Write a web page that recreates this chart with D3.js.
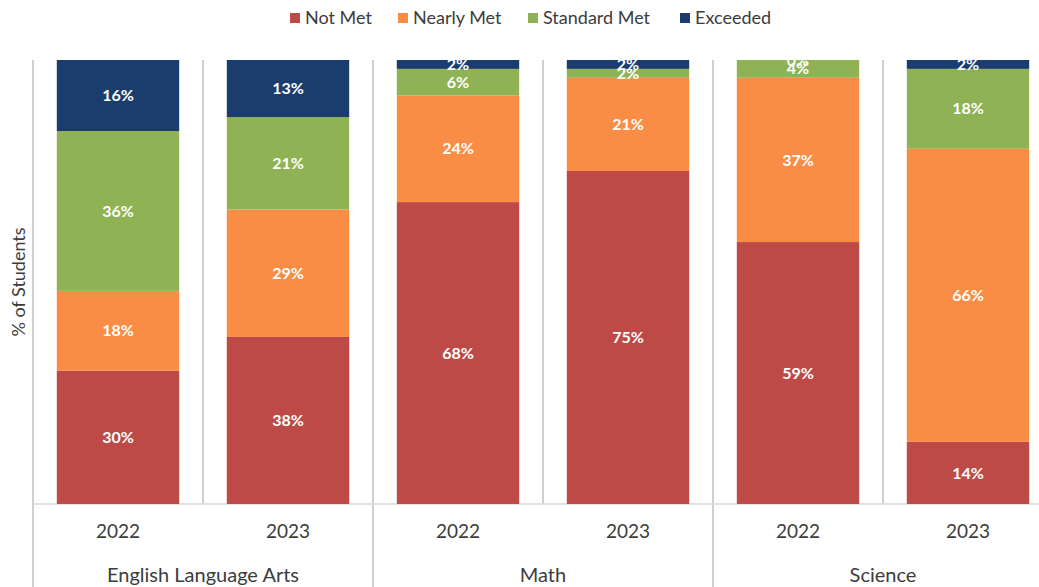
<!DOCTYPE html>
<html>
<head>
<meta charset="utf-8">
<script src="https://cdn.jsdelivr.net/npm/d3@7"></script>
<style>
  body { margin: 0; background: #fff; }
  text { font-family: Lato, "Open Sans", sans-serif; }
</style>
</head>
<body>
<div id="chart"></div>
<script>
// data
var subjects = ["English Language Arts", "Math", "Science"];
var years = ["2022", "2023"];
var levels = ["Not Met", "Nearly Met", "Standard Met", "Exceeded"];
var levelColors = ["#be4a47", "#f98d45", "#8fb254", "#1b3d6d"];

// one value per bar: ELA 2022, ELA 2023, Math 2022, Math 2023, Sci 2022, Sci 2023
var notMet      = [30, 38, 68, 75, 59, 14];
var nearlyMet   = [18, 29, 24, 21, 37, 66];
var standardMet = [36, 21, 6, 2, 4, 18];
var exceeded    = [16, 13, 2, 2, 0, 2];

var width = 1039, height = 587;
var margin = { left: 33, right: -14, top: 60, bottom: 83 };

var rows = [];
subjects.forEach(function(s, si) {
    years.forEach(function(y, yi) {
        var i = si * years.length + yi;
        rows.push({
            key: s + "|" + y, subject: s, year: y,
            "Not Met": notMet[i], "Nearly Met": nearlyMet[i],
            "Standard Met": standardMet[i], "Exceeded": exceeded[i]
        });
    });
});

var svg = d3.select("#chart").append("svg")
    .attr("width", width)
    .attr("height", height);

var x = d3.scaleBand()
    .domain(rows.map(function(d) { return d.key; }))
    .range([margin.left, width - margin.right])
    .paddingInner(0.28)
    .paddingOuter(0.14);

// 100% stacked, like the original
var y = d3.scaleLinear()
    .domain([0, 1])
    .range([height - margin.bottom, margin.top]);

var color = d3.scaleOrdinal().domain(levels).range(levelColors);

var stack = d3.stack().keys(levels).offset(d3.stackOffsetExpand);
var series = stack(rows);

var step = x.step();
var gap = step * x.paddingInner() / 2;
var baseY = y(0);

// separators between bars, longer ones between subjects
var grid = svg.append("g");
rows.forEach(function(d, i) {
    var lx = x(d.key) - gap;
    var groupStart = i % years.length == 0;
    grid.append("line")
        .attr("x1", lx).attr("x2", lx)
        .attr("y1", y(1))
        .attr("y2", groupStart ? height : baseY)
        .attr("stroke", "#cfcfcf")
        .attr("stroke-width", 2);
});

grid.append("line")
    .attr("x1", margin.left).attr("x2", width)
    .attr("y1", baseY).attr("y2", baseY)
    .attr("stroke", "#d6d6d6")
    .attr("stroke-width", 1.5);

var layer = svg.selectAll(".layer")
    .data(series)
    .enter().append("g")
    .attr("class", "layer")
    .attr("fill", function(d) { return color(d.key); });

layer.selectAll("rect")
    .data(function(d) { return d; })
    .enter().append("rect")
    .attr("x", function(d) { return x(d.data.key); })
    .attr("width", x.bandwidth())
    .attr("y", function(d) { return y(d[1]); })
    .attr("height", function(d) { return y(d[0]) - y(d[1]); });

layer.selectAll("text")
    .data(function(d) { return d.map(function(p) { p.level = d.key; return p; }); })
    .enter().append("text")
    .attr("x", function(d) { return x(d.data.key) + x.bandwidth() / 2; })
    .attr("y", function(d) { return (y(d[0]) + y(d[1])) / 2; })
    .attr("dy", "0.35em")
    .attr("text-anchor", "middle")
    .attr("fill", "#fff")
    .attr("font-size", "16px")
    .attr("font-weight", "bold")
    .text(function(d) { return d.data[d.level] + "%"; });

// year labels
svg.append("g").selectAll("text")
    .data(rows)
    .enter().append("text")
    .attr("x", function(d) { return x(d.key) + x.bandwidth() / 2; })
    .attr("y", baseY + 27)
    .attr("dy", "0.35em")
    .attr("text-anchor", "middle")
    .attr("font-size", "19px")
    .attr("fill", "#3c3c3c")
    .text(function(d) { return d.year; });

// subject labels
svg.append("g").selectAll("text")
    .data(subjects)
    .enter().append("text")
    .attr("x", function(s, i) {
        var first = rows[i * years.length].key;
        return x(first) - gap + step * years.length / 2;
    })
    .attr("y", baseY + 71)
    .attr("dy", "0.35em")
    .attr("text-anchor", "middle")
    .attr("font-size", "20px")
    .attr("fill", "#3c3c3c")
    .text(function(s) { return s; });

// y axis title
svg.append("text")
    .attr("transform", "translate(19," + ((y(0) + y(1)) / 2) + ") rotate(-90)")
    .attr("dy", "0.35em")
    .attr("text-anchor", "middle")
    .attr("font-size", "18px")
    .attr("fill", "#3c3c3c")
    .text("% of Students");

// legend
var legendX = [290, 398, 528, 680];
var legend = svg.append("g").selectAll("g")
    .data(levels)
    .enter().append("g")
    .attr("transform", function(d, i) { return "translate(" + legendX[i] + ",18)"; });

legend.append("rect")
    .attr("y", -5)
    .attr("width", 10)
    .attr("height", 10)
    .attr("fill", function(d) { return color(d); });

legend.append("text")
    .attr("x", 15)
    .attr("dy", "0.35em")
    .attr("font-size", "18px")
    .attr("fill", "#3c3c3c")
    .text(function(d) { return d; });
</script>
</body>
</html>
